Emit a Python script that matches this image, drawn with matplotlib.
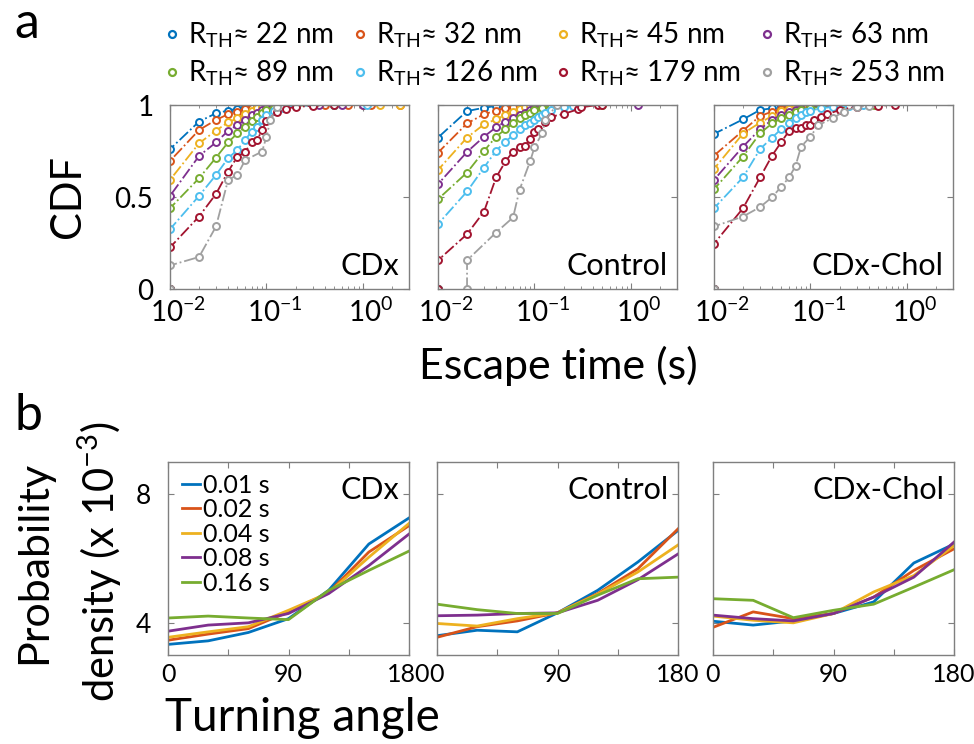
import numpy as np
import matplotlib
matplotlib.use("Agg")
import matplotlib.pyplot as plt
import matplotlib.transforms as mtransforms
from matplotlib.lines import Line2D
from matplotlib.ticker import LogLocator, NullFormatter, FixedLocator

plt.rcParams['font.family'] = ['Lato', 'DejaVu Sans']
plt.rcParams['mathtext.fontset'] = 'custom'
plt.rcParams['mathtext.rm'] = 'Lato'
plt.rcParams['mathtext.it'] = 'Lato:italic'
plt.rcParams['mathtext.bf'] = 'Lato:bold'

# ---- data: CDF of escape time ----
radii = ["22", "32", "45", "63", "89", "126", "179", "253"]
colors = ["#0072BD", "#D95319", "#EDB120", "#7E2F8E", "#77AC30", "#4DBEEE", "#A2142F", "#A0A0A0"]
conditions = ["CDx", "Control", "CDx-Chol"]

cdx_t = [
    [0.01, 0.01, 0.02, 0.03, 0.04, 0.05, 0.06, 0.08, 0.1, 0.15, 0.3, 0.5],
    [0.01, 0.01, 0.02, 0.03, 0.04, 0.05, 0.06, 0.07, 0.08, 0.1, 0.13, 0.2, 0.4, 0.7, 1.2, 2.4],
    [0.01, 0.01, 0.02, 0.03, 0.04, 0.05, 0.06, 0.07, 0.08, 0.09, 0.1, 0.12, 0.15, 0.2, 0.3, 0.5, 1.0, 1.5, 2.4],
    [0.01, 0.01, 0.02, 0.03, 0.04, 0.05, 0.06, 0.07, 0.08, 0.09, 0.1, 0.12, 0.15, 0.2, 0.35, 0.6, 1.0],
    [0.01, 0.01, 0.02, 0.03, 0.04, 0.05, 0.06, 0.07, 0.08, 0.09, 0.1, 0.12, 0.15, 0.2, 0.3, 0.5],
    [0.01, 0.01, 0.02, 0.03, 0.04, 0.05, 0.06, 0.07, 0.08, 0.09, 0.1, 0.12, 0.15, 0.2, 0.3, 0.5, 1.1],
    [0.01, 0.01, 0.02, 0.03, 0.04, 0.05, 0.06, 0.07, 0.08, 0.09, 0.1, 0.13, 0.16, 0.2, 0.3, 0.5],
    [0.01, 0.01, 0.02, 0.03, 0.04, 0.05, 0.06, 0.09, 0.1, 0.11, 0.13],
]
cdx_f = [
    [0, 0.76, 0.91, 0.955, 0.97, 0.98, 0.99, 0.995, 0.998, 1, 1, 1],
    [0, 0.696, 0.864, 0.919, 0.95, 0.964, 0.976, 0.985, 0.99, 0.995, 0.997, 0.998, 0.999, 0.999, 1, 1],
    [0, 0.593, 0.792, 0.861, 0.906, 0.928, 0.951, 0.969, 0.982, 0.991, 0.994, 0.996, 0.998, 0.999, 0.999, 1, 1, 1, 1],
    [0, 0.506, 0.723, 0.797, 0.859, 0.892, 0.919, 0.946, 0.959, 0.973, 0.982, 0.99, 0.995, 0.998, 0.999, 1, 1],
    [0, 0.439, 0.602, 0.714, 0.797, 0.846, 0.882, 0.915, 0.937, 0.959, 0.973, 0.985, 0.993, 0.997, 1, 1],
    [0, 0.325, 0.506, 0.62, 0.711, 0.756, 0.81, 0.855, 0.882, 0.919, 0.946, 0.97, 0.985, 0.993, 0.998, 1, 1],
    [0, 0.226, 0.394, 0.517, 0.638, 0.72, 0.743, 0.80, 0.81, 0.864, 0.915, 0.964, 0.98, 0.99, 0.995, 1],
    [0, 0.128, 0.174, 0.34, 0.593, 0.62, 0.70, 0.747, 0.828, 0.919, 0.991],
]

ctrl_t = [
    [0.01, 0.01, 0.02, 0.03, 0.04, 0.05, 0.06, 0.07],
    [0.01, 0.01, 0.02, 0.03, 0.04, 0.05, 0.06, 0.07, 0.08],
    [0.01, 0.01, 0.02, 0.03, 0.04, 0.05, 0.06, 0.07, 0.08, 0.09, 0.1, 0.12],
    [0.01, 0.01, 0.02, 0.03, 0.04, 0.05, 0.06, 0.07, 0.08, 0.09, 0.1, 0.12, 0.15, 0.2, 0.3, 1.17],
    [0.01, 0.01, 0.02, 0.03, 0.04, 0.05, 0.06, 0.07, 0.08, 0.09, 0.1, 0.12, 0.15, 0.2, 0.3, 0.5],
    [0.01, 0.01, 0.02, 0.03, 0.04, 0.05, 0.06, 0.07, 0.08, 0.09, 0.1, 0.11, 0.12, 0.13, 0.15, 0.2, 0.25, 0.3],
    [0.01, 0.01, 0.02, 0.03, 0.04, 0.05, 0.06, 0.07, 0.08, 0.09, 0.1, 0.11, 0.13, 0.15, 0.2, 0.28, 0.3, 0.45, 0.5],
    [0.02, 0.02, 0.04, 0.06, 0.07, 0.09, 0.1, 0.12, 0.13, 0.17],
]
ctrl_f = [
    [0, 0.823, 0.967, 0.985, 0.995, 1, 1, 1],
    [0, 0.741, 0.90, 0.95, 0.97, 0.986, 0.991, 0.996, 1],
    [0, 0.647, 0.823, 0.895, 0.922, 0.946, 0.964, 0.976, 0.987, 0.993, 0.996, 1],
    [0, 0.57, 0.745, 0.828, 0.879, 0.91, 0.928, 0.946, 0.959, 0.973, 0.98, 0.99, 0.995, 0.998, 0.999, 1],
    [0, 0.488, 0.633, 0.75, 0.828, 0.868, 0.90, 0.928, 0.946, 0.959, 0.973, 0.985, 0.993, 0.997, 0.999, 1],
    [0, 0.353, 0.53, 0.66, 0.752, 0.80, 0.837, 0.868, 0.892, 0.904, 0.919, 0.937, 0.946, 0.955, 0.973, 0.99, 0.997, 1],
    [0, 0.156, 0.298, 0.421, 0.606, 0.693, 0.747, 0.77, 0.778, 0.814, 0.855, 0.868, 0.91, 0.937, 0.951, 0.976, 0.987, 1, 1],
    [0, 0.156, 0.307, 0.389, 0.539, 0.693, 0.77, 0.846, 0.92, 1.0],
]

chol_t = [
    [0.01, 0.01, 0.02, 0.03, 0.04, 0.05, 0.06],
    [0.01, 0.01, 0.02, 0.03, 0.04, 0.05, 0.06, 0.08, 0.1, 0.13],
    [0.01, 0.01, 0.02, 0.03, 0.04, 0.05, 0.06, 0.07, 0.08, 0.1, 0.13, 0.17],
    [0.01, 0.01, 0.02, 0.03, 0.04, 0.05, 0.06, 0.07, 0.08, 0.1, 0.13, 0.2, 0.3],
    [0.01, 0.01, 0.02, 0.03, 0.04, 0.05, 0.06, 0.07, 0.08, 0.1, 0.13, 0.2, 0.3, 0.45],
    [0.01, 0.01, 0.02, 0.03, 0.04, 0.05, 0.06, 0.07, 0.08, 0.09, 0.1, 0.13, 0.17, 0.25, 0.35],
    [0.01, 0.01, 0.02, 0.03, 0.04, 0.05, 0.06, 0.07, 0.08, 0.09, 0.1, 0.11, 0.13, 0.15, 0.2, 0.3, 0.5, 0.75],
    [0.01, 0.01, 0.02, 0.03, 0.04, 0.05, 0.06, 0.07, 0.08, 0.1, 0.12, 0.17, 0.22, 0.3, 0.4],
]
chol_f = [
    [0, 0.843, 0.922, 0.973, 0.982, 0.995, 1],
    [0, 0.725, 0.861, 0.94, 0.964, 0.978, 0.987, 0.995, 0.998, 1],
    [0, 0.653, 0.845, 0.904, 0.94, 0.969, 0.978, 0.985, 0.991, 0.996, 0.998, 1],
    [0, 0.593, 0.774, 0.868, 0.92, 0.946, 0.96, 0.973, 0.98, 0.987, 0.993, 0.998, 1],
    [0, 0.542, 0.72, 0.846, 0.90, 0.928, 0.946, 0.964, 0.973, 0.982, 0.99, 0.996, 0.999, 1],
    [0, 0.439, 0.607, 0.76, 0.823, 0.87, 0.90, 0.932, 0.946, 0.964, 0.97, 0.982, 0.99, 0.996, 1],
    [0, 0.246, 0.439, 0.606, 0.725, 0.80, 0.859, 0.873, 0.876, 0.89, 0.893, 0.92, 0.937, 0.95, 0.973, 0.991, 0.996, 1],
    [0, 0.34, 0.394, 0.445, 0.499, 0.557, 0.606, 0.669, 0.774, 0.828, 0.89, 0.928, 0.964, 0.991, 0.995],
]

cdf_t = [cdx_t, ctrl_t, chol_t]
cdf_f = [cdx_f, ctrl_f, chol_f]

# ---- data: turning angle distributions ----
angles = [0, 30, 60, 90, 120, 150, 180]
lags = ["0.01 s", "0.02 s", "0.04 s", "0.08 s", "0.16 s"]
lag_colors = ["#0072BD", "#D95319", "#EDB120", "#7E2F8E", "#77AC30"]
pd_cdx = [
    [3.33, 3.44, 3.70, 4.13, 5.01, 6.45, 7.26],
    [3.46, 3.65, 3.82, 4.34, 4.94, 6.20, 7.02],
    [3.55, 3.72, 3.88, 4.39, 4.93, 6.04, 7.09],
    [3.74, 3.93, 4.00, 4.29, 4.91, 5.78, 6.76],
    [4.15, 4.21, 4.15, 4.10, 5.01, 5.63, 6.23],
]
pd_ctrl = [
    [3.60, 3.77, 3.72, 4.31, 5.01, 5.89, 6.87],
    [3.55, 3.88, 4.06, 4.31, 4.91, 5.68, 6.92],
    [3.98, 3.90, 4.13, 4.31, 4.89, 5.58, 6.42],
    [4.22, 4.24, 4.29, 4.31, 4.70, 5.34, 6.14],
    [4.58, 4.41, 4.29, 4.29, 4.86, 5.37, 5.42],
]
pd_chol = [
    [4.05, 3.93, 4.06, 4.29, 4.65, 5.86, 6.45],
    [3.86, 4.34, 4.13, 4.29, 4.80, 5.63, 6.30],
    [4.21, 4.08, 4.00, 4.29, 4.96, 5.47, 6.40],
    [4.24, 4.13, 4.06, 4.29, 4.80, 5.42, 6.51],
    [4.75, 4.70, 4.16, 4.39, 4.58, 5.11, 5.65],
]
pd_all = [pd_cdx, pd_ctrl, pd_chol]

W, H = 974, 744
fig = plt.figure(figsize=(W / 100, H / 100), dpi=100)

spine_col = "#7f7f7f"


def style_axes(ax, size):
    for s in ax.spines.values():
        s.set_color(spine_col)
        s.set_linewidth(1.0)
    ax.tick_params(which="both", direction="in", top=True, right=True, color=spine_col,
                   labelsize=size, pad=6)
    ax.tick_params(which="major", length=4)
    ax.tick_params(which="minor", length=2)


top_lefts = [170, 438, 714]
bot_lefts = [168, 437, 713]
shift = mtransforms.ScaledTranslation(8 / 100, 0, fig.dpi_scale_trans)

# ---- panel a ----
for i, cond in enumerate(conditions):
    ax = fig.add_axes([top_lefts[i] / W, (H - 289) / H, 239 / W, 184 / H])
    for k in range(len(radii)):
        ax.plot(cdf_t[i][k], cdf_f[i][k], ls="-.", lw=1.3, color=colors[k],
                marker="o", ms=5, mfc="white", mew=1.4, mec=colors[k])
    ax.set_xscale("log")
    ax.set_xlim(0.01, 3.0)
    ax.set_ylim(0, 1)
    ax.set_yticks([0, 0.5, 1])
    ax.xaxis.set_major_locator(FixedLocator([0.01, 0.1, 1]))
    ax.xaxis.set_minor_locator(LogLocator(base=10, subs=np.arange(2, 10)))
    ax.xaxis.set_minor_formatter(NullFormatter())
    style_axes(ax, 20)
    ax.set_xticklabels([r"10$^{-2}$", r"10$^{-1}$", r"10$^{0}$"])
    for lab in ax.get_xticklabels():
        lab.set_transform(lab.get_transform() + shift)
    if i == 0:
        ax.set_yticklabels(["0", "0.5", "1"])
        ax.tick_params(axis="y", pad=12)
    else:
        ax.set_yticklabels([])
    ax.text(0.96, 0.05, cond, transform=ax.transAxes, ha="right", va="bottom", fontsize=22)

fig.text(68 / W, 1 - 197 / H, "CDF", rotation=90, ha="center", va="center", fontsize=30)
fig.text(558 / W, 1 - 366 / H, "Escape time (s)", ha="center", va="center", fontsize=31)
fig.text(14 / W, 1 - 38 / H, "a", ha="left", va="baseline", fontsize=36)

# legend filled row by row (matplotlib fills columns first)
order = [0, 4, 1, 5, 2, 6, 3, 7]
handles = [Line2D([], [], ls="none", marker="o", ms=5, mfc="white", mew=1.6, mec=colors[k]) for k in order]
labels = [r"R$_{\rm TH}$≈ %s nm" % radii[k] for k in order]
fig.legend(handles, labels, ncol=4, loc="upper left", bbox_to_anchor=(166 / W, 1 - 21 / H),
           frameon=False, fontsize=20, handlelength=0.45, handletextpad=0.35,
           columnspacing=0.7, labelspacing=0.3, borderaxespad=0, borderpad=0)

# ---- panel b ----
for i, cond in enumerate(conditions):
    ax = fig.add_axes([bot_lefts[i] / W, (H - 655) / H, 241 / W, 193 / H])
    lines = []
    for k in range(len(lags)):
        ln, = ax.plot(angles, pd_all[i][k], color=lag_colors[k], lw=2.0)
        lines.append(ln)
    ax.set_xlim(0, 180)
    ax.set_ylim(3, 9)
    ax.set_xticks([0, 45, 90, 135, 180])
    ax.set_yticks([4, 8])
    style_axes(ax, 18)
    ax.set_xticklabels(["0", "", "90", "", "180"])
    if i == 0:
        ax.set_yticklabels(["4", "8"])
        ax.tick_params(axis="y", labelsize=19, pad=12)
        ax.legend(lines, lags, loc="upper left", bbox_to_anchor=(0.06, 0.94), frameon=False,
                  fontsize=18, handlelength=0.7, handletextpad=0.12, labelspacing=0.06,
                  borderaxespad=0, borderpad=0)
    else:
        ax.set_yticklabels([])
    ax.text(0.96, 0.93, cond, transform=ax.transAxes, ha="right", va="top", fontsize=22)

fig.text(34 / W, 1 - 562 / H, "Probability", rotation=90, ha="center", va="center", fontsize=31)
fig.text(100 / W, 1 - 562 / H, r"density (x 10$^{-3}$)", rotation=90, ha="center", va="center", fontsize=30)
fig.text(302 / W, 1 - 718 / H, "Turning angle", ha="center", va="center", fontsize=33)
fig.text(14 / W, 1 - 430 / H, "b", ha="left", va="baseline", fontsize=36)

fig.savefig("out.png", dpi=100)
